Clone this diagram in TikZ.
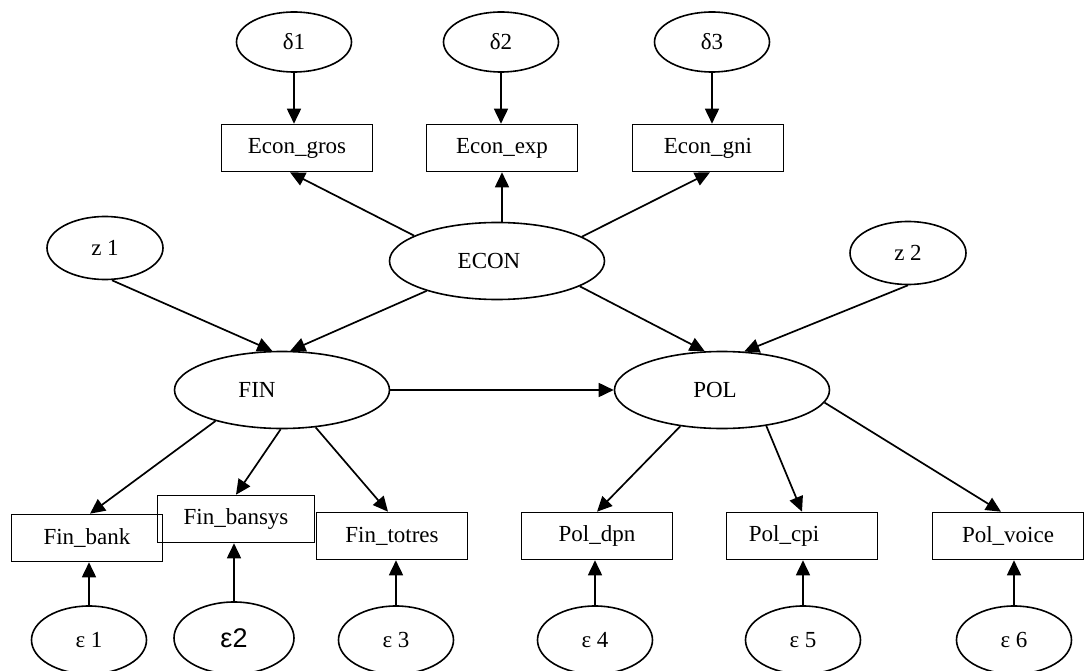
\documentclass[tikz,border=0pt]{standalone}
\usepackage{fontspec}
\setmainfont{Liberation Serif}
\newfontfamily\sansf{Liberation Sans}
\usetikzlibrary{arrows.meta,shapes.geometric}
\begin{document}
\begin{tikzpicture}[x=1pt,y=-1pt,
  every node/.style={font=\fontsize{23}{27}\selectfont, inner sep=0pt, line width=1.6pt},
  errv/.style={draw, ellipse, minimum width=115pt, minimum height=60pt},
  obsv/.style={draw, rectangle, minimum width=151pt, minimum height=47pt},
  latv/.style={draw, ellipse, minimum width=215pt, minimum height=77pt},
  arr/.style={-{Triangle[length=15pt,width=14pt]}, line width=1.7pt}]
\useasboundingbox (0,0) rectangle (1085,671);
% top error terms
\node[errv] (d1) at (294,42) {δ1};
\node[errv] (d2) at (501,42) {δ2};
\node[errv] (d3) at (712,42) {δ3};
% econ indicators
\node[obsv] (gros) at (297,148) {Econ\_gros};
\node[obsv] (exp) at (502,148) {Econ\_exp};
\node[obsv] (gni) at (708,148) {Econ\_gni};
% latent
\node[latv] (econ) at (497,261) {ECON\hspace{16pt}\null};
\node[errv, minimum width=116pt, minimum height=63pt] (z1) at (105,248) {z 1};
\node[errv, minimum width=116pt, minimum height=63pt] (z2) at (908,253) {z 2};
\node[latv] (fin) at (282,390) {FIN\hspace{50pt}\null};
\node[latv] (pol) at (722,390) {POL\hspace{14pt}\null};
% bottom indicators
\node[obsv] (bank) at (87,538) {Fin\_bank};
\node[obsv, minimum width=157pt] (bansys) at (236,519) {Fin\_bansys};
\node[obsv] (totres) at (392,536) {Fin\_totres};
\node[obsv] (dpn) at (597,536) {Pol\_dpn};
\node[obsv] (cpi) at (802,536) {Pol\_cpi\hspace{36pt}\null};
\node[obsv] (voice) at (1008,536) {Pol\_voice};
% bottom error terms
\node[errv, minimum height=68pt] (e1) at (89,640) {ε 1};
\node[errv, minimum width=120pt, minimum height=72pt] (e2) at (234,638) {\sansf\fontsize{27}{30}\selectfont ε2};
\node[errv, minimum height=68pt] (e3) at (396,640) {ε 3};
\node[errv, minimum height=68pt] (e4) at (595,640) {ε 4};
\node[errv, minimum height=68pt] (e5) at (803,640) {ε 5};
\node[errv, minimum height=68pt] (e6) at (1014,640) {ε 6};
% arrows top
\draw[arr] (d1.south) -- (d1.south |- gros.north);
\draw[arr] (d2.south) -- (d2.south |- exp.north);
\draw[arr] (d3.south) -- (d3.south |- gni.north);
\draw[arr] (econ.163) -- ([xshift=-7pt]gros.south);
\draw[arr] (econ.north -| exp.south) -- (exp.south);
\draw[arr] (econ.16) -- ([xshift=2pt]gni.south);
% structural
\draw[arr] ([xshift=7pt]z1.south) -- (fin.104);
\draw[arr] (econ.203) -- (fin.78);
\draw[arr] (econ.343) -- (pol.114);
\draw[arr] (z2.south) -- (pol.60);
\draw[arr] (fin.east) -- (pol.west);
% measurement
\draw[arr] (fin.205) -- ([xshift=3pt]bank.north);
\draw[arr] (fin.268) -- (bansys.north);
\draw[arr] (fin.312) -- ([xshift=-4pt]totres.north);
\draw[arr] (pol.221) -- (dpn.north);
\draw[arr] (pol.321) -- (cpi.north);
\draw[arr] (pol.353) -- ([xshift=-7pt]voice.north);
% residuals
\draw[arr] (e1.north) -- (e1.north |- bank.south);
\draw[arr] (e2.north) -- (e2.north |- bansys.south);
\draw[arr] (e3.north) -- (e3.north |- totres.south);
\draw[arr] (e4.north) -- (e4.north |- dpn.south);
\draw[arr] (e5.north) -- (e5.north |- cpi.south);
\draw[arr] (e6.north) -- (e6.north |- voice.south);
\end{tikzpicture}
\end{document}
